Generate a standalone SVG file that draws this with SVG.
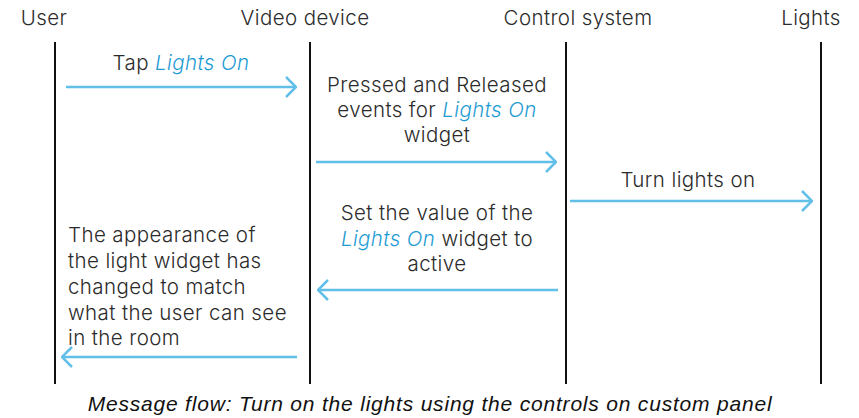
<svg xmlns="http://www.w3.org/2000/svg" width="859" height="418" viewBox="0 0 859 418">
<style>
text{font-family:Inter,"Open Sans","Liberation Sans",sans-serif;font-weight:300;font-size:20.5px;letter-spacing:0.4px;fill:#2b2b2b}
.c{text-anchor:middle}
.h{fill:#1f9bd3;font-style:italic}
.life{stroke:#111;stroke-width:2}
.msg{stroke:#62bfe8;stroke-width:2.5;fill:none}
.cap{font-family:"Liberation Sans",Arial,sans-serif;font-style:italic;font-weight:400;font-size:21px;letter-spacing:0.8px;fill:#111}
</style>
<defs>
<marker id="ah" viewBox="0 0 12 22" refX="11" refY="11" markerWidth="12" markerHeight="22" markerUnits="userSpaceOnUse" orient="auto">
<path d="M1,1 L11,11 L1,21" fill="none" stroke="#62bfe8" stroke-width="2.5"/>
</marker>
</defs>
<g id="user"><text x="44" y="25" class="c">User</text><line class="life" x1="55" y1="42" x2="55" y2="384"/></g>
<g id="video"><text x="305" y="25" class="c">Video device</text><line class="life" x1="310" y1="42" x2="310" y2="384"/></g>
<g id="control"><text x="578" y="25" class="c">Control system</text><line class="life" x1="566" y1="42" x2="566" y2="384"/></g>
<g id="lights"><text x="811" y="25" class="c">Lights</text><line class="life" x1="821" y1="42" x2="821" y2="384"/></g>
<g id="connectors">
<line class="msg" x1="66" y1="87" x2="296" y2="87" marker-end="url(#ah)"/>
<line class="msg" x1="316" y1="162" x2="556" y2="162" marker-end="url(#ah)"/>
<line class="msg" x1="570" y1="201" x2="812" y2="201" marker-end="url(#ah)"/>
<line class="msg" x1="558" y1="290" x2="318" y2="290" marker-end="url(#ah)"/>
<line class="msg" x1="297" y1="357" x2="62" y2="357" marker-end="url(#ah)"/>
</g>
<g id="labels">
<text x="181" y="70" class="c">Tap <tspan class="h">Lights On</tspan></text>
<text x="437" y="92" class="c">Pressed and Released</text>
<text x="437" y="117" class="c">events for <tspan class="h">Lights On</tspan></text>
<text x="437" y="142" class="c">widget</text>
<text x="688" y="187" class="c">Turn lights on</text>
<text x="437" y="220" class="c">Set the value of the</text>
<text x="437" y="246" class="c"><tspan class="h">Lights On</tspan> widget to</text>
<text x="437" y="271" class="c">active</text>
<text x="68" y="242">The appearance of</text>
<text x="68" y="268">the light widget has</text>
<text x="68" y="294">changed to match</text>
<text x="68" y="320">what the user can see</text>
<text x="68" y="345">in the room</text>
</g>
<text class="cap c" x="430" y="411">Message flow: Turn on the lights using the controls on custom panel</text>
</svg>
